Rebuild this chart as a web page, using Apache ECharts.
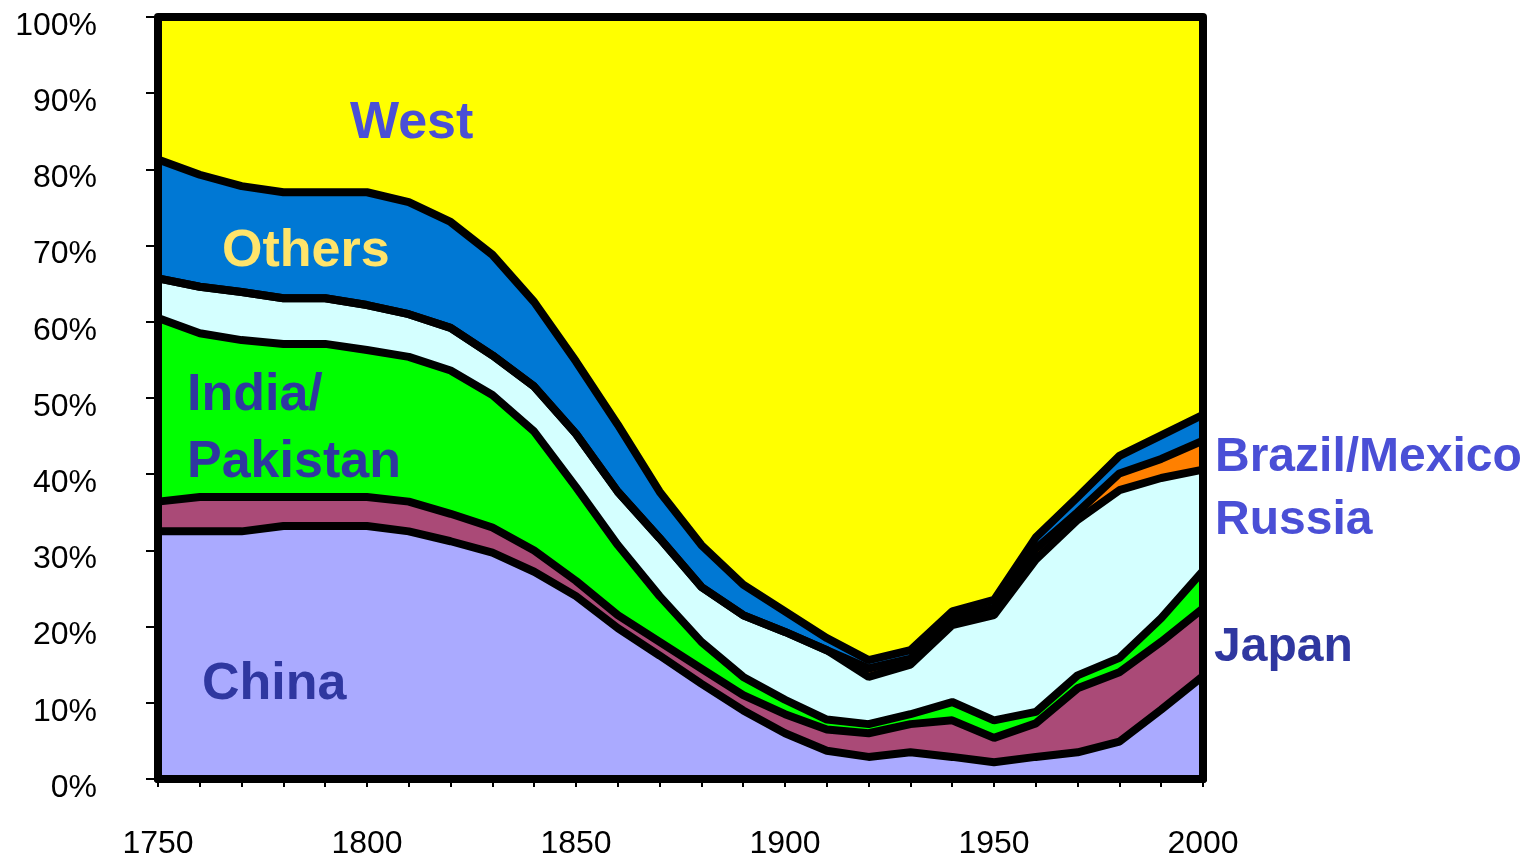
<!DOCTYPE html>
<html>
<head>
<meta charset="utf-8">
<script src="https://cdn.jsdelivr.net/npm/echarts@6/dist/echarts.min.js"></script>
<style>
  html, body { margin: 0; padding: 0; background: #fff; }
  #chart { width: 1531px; height: 860px; }
</style>
</head>
<body>
<div id="chart"></div>
<script>
// share of world output, % per decade
var years = ["1750", "1760", "1770", "1780", "1790", "1800", "1810", "1820", "1830", "1840", "1850", "1860", "1870",
             "1880", "1890", "1900", "1910", "1920", "1930", "1940", "1950", "1960", "1970", "1980", "1990", "2000"];
var china  = [32.5, 32.5, 32.5, 33.2, 33.2, 33.2, 32.5, 31.2, 29.7, 27.2, 24.0, 19.8, 16.2,
              12.5, 9.0, 6.0, 3.7, 2.9, 3.5, 2.9, 2.2, 2.9, 3.5, 4.9, 9.1, 13.5];
var japan  = [3.9, 4.5, 4.5, 3.8, 3.8, 3.8, 3.9, 3.6, 3.3, 2.8, 2.0, 1.7, 1.8,
              2.0, 2.0, 2.5, 2.8, 3.1, 3.7, 4.8, 3.2, 4.4, 8.4, 9.1, 8.9, 8.9];
var india  = [24.1, 21.5, 20.6, 20.1, 20.1, 19.3, 19.0, 18.8, 17.4, 15.6, 12.3, 9.2, 6.0,
              3.5, 2.4, 1.9, 1.3, 1.2, 1.3, 2.4, 2.3, 1.5, 1.7, 1.9, 3.1, 4.9];
var russia = [5.2, 6.1, 6.3, 6.0, 6.0, 5.9, 5.6, 5.6, 5.2, 5.9, 7.0, 7.0, 7.6,
              7.2, 8.1, 8.9, 9.1, 6.2, 6.5, 10.1, 13.8, 20.0, 20.4, 22.0, 18.4, 13.3];
var brazil = [0, 0, 0, 0, 0, 0, 0, 0, 0, 0, 0, 0, 0,
              0, 0, 0, 0, 1.1, 0.8, 0.9, 1.0, 1.4, 1.0, 2.2, 2.5, 3.8];
var others = [15.6, 14.7, 13.9, 13.9, 13.9, 14.8, 14.7, 13.9, 13.2, 11.1, 9.5, 8.8, 6.1,
              5.5, 4.0, 2.7, 1.6, 1.1, 1.1, 0.9, 1.0, 1.5, 2.0, 2.3, 3.1, 3.4];
var west   = [18.7, 20.7, 22.2, 23.0, 23.0, 23.0, 24.3, 26.9, 31.2, 37.4, 45.2, 53.5, 62.3,
              69.3, 74.5, 78.0, 81.5, 84.4, 83.1, 78.0, 76.5, 68.3, 63.0, 57.6, 54.9, 52.2];

var regions = [
  { name: "China", data: china, color: "#AAAAFF" },
  { name: "Japan", data: japan, color: "#AA4A77" },
  { name: "India/Pakistan", data: india, color: "#00FF00" },
  { name: "Russia", data: russia, color: "#D4FFFF" },
  { name: "Brazil/Mexico", data: brazil, color: "#FF8000" },
  { name: "Others", data: others, color: "#0078D4" },
  { name: "West", data: west, color: "#FFFF00" }
];

var font = "'Liberation Sans', Arial, sans-serif";

var series = [];
// areas first, black borders on top of all of them
regions.forEach(function (r) {
  series.push({
    name: r.name,
    type: "line",
    stack: "area",
    z: 2,
    symbol: "none",
    silent: true,
    lineStyle: { width: 0 },
    areaStyle: { color: r.color, opacity: 1 },
    data: r.data
  });
});
regions.forEach(function (r) {
  series.push({
    name: r.name + "-line",
    type: "line",
    stack: "line",
    z: 3,
    symbol: "none",
    silent: true,
    lineStyle: { width: 8, color: "#000" },
    data: r.data
  });
});

var labels = [
  { text: "West", x: 350, y: 124, size: 52, color: "#4A4FD6" },
  { text: "Others", x: 222, y: 252, size: 52, color: "#FFE46B" },
  { text: "India/", x: 187, y: 396, size: 52, color: "#2F37A0" },
  { text: "Pakistan", x: 187, y: 463, size: 52, color: "#2F37A0" },
  { text: "China", x: 202, y: 685, size: 52, color: "#2F37A0" },
  { text: "Brazil/Mexico", x: 1215, y: 458, size: 48, color: "#4A4FD6" },
  { text: "Russia", x: 1215, y: 521, size: 48, color: "#4A4FD6" },
  { text: "Japan", x: 1214, y: 648, size: 48, color: "#2F37A0" }
];

var option = {
  backgroundColor: "#fff",
  animation: false,
  grid: { left: 158, right: 328, top: 17, bottom: 81 },
  xAxis: [
    {
      type: "category",
      data: years,
      boundaryGap: false,
      z: 10,
      splitLine: { show: false },
      axisLine: { show: true, lineStyle: { color: "#000", width: 8 } },
      axisTick: { show: true, interval: 0, length: 8, lineStyle: { color: "#000", width: 2 } },
      axisLabel: { interval: 4, margin: 49, fontSize: 32, color: "#000", fontFamily: font }
    },
    {
      type: "category",
      data: years,
      boundaryGap: false,
      position: "top",
      z: 10,
      splitLine: { show: false },
      axisLine: { show: true, lineStyle: { color: "#000", width: 8 } },
      axisTick: { show: false },
      axisLabel: { show: false }
    }
  ],
  yAxis: [
    {
      type: "value",
      min: 0,
      max: 100,
      interval: 10,
      z: 10,
      splitLine: { show: false },
      axisLine: { show: true, lineStyle: { color: "#000", width: 8 } },
      axisTick: { show: true, length: 12, lineStyle: { color: "#000", width: 2 } },
      axisLabel: {
        margin: 61,
        fontSize: 32,
        color: "#000",
        fontFamily: font,
        verticalAlign: "top",
        lineHeight: 18,
        formatter: "{value}%"
      }
    },
    {
      type: "value",
      position: "right",
      min: 0,
      max: 100,
      z: 10,
      splitLine: { show: false },
      axisLine: { show: true, lineStyle: { color: "#000", width: 8 } },
      axisTick: { show: false },
      axisLabel: { show: false }
    }
  ],
  graphic: labels.map(function (l) {
    return {
      type: "text",
      x: l.x,
      y: l.y,
      z: 20,
      style: {
        text: l.text,
        fill: l.color,
        font: "bold " + l.size + "px " + font,
        verticalAlign: "middle",
        align: "left"
      }
    };
  }),
  series: series
};

var myChart = echarts.init(document.getElementById("chart"));
myChart.setOption(option);
window.addEventListener("resize", function () {
  myChart.resize();
});
</script>
</body>
</html>
